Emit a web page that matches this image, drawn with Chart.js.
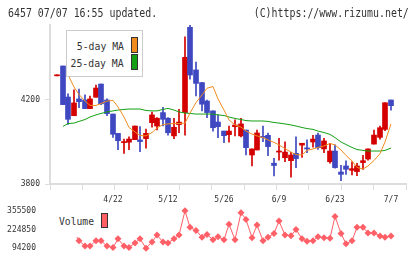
<!DOCTYPE html>
<html>
<head>
<meta charset="utf-8">
<script src="https://cdn.jsdelivr.net/npm/chart.js@4.4.1/dist/chart.umd.min.js"></script>
<style>
body { margin: 0; background: #fff; }
#box { position: relative; width: 420px; height: 259px; overflow: hidden; background: #fff;
  font-family: "DejaVu Sans Mono", monospace; color: #333; }
#box canvas { position: absolute; left: 0; }
.t { position: absolute; white-space: nowrap; }
.sw { position: absolute; box-sizing: border-box; border: 1px solid #333; }
</style>
</head>
<body>
<div id="box">
  <canvas id="chart_price" width="420" height="210" style="top:0"></canvas>
  <canvas id="chart_volume" width="420" height="59" style="top:200px"></canvas>

  <div class="t" style="left:8px;top:7px;font-size:12px;line-height:12px;transform:scaleX(0.826);transform-origin:left top">6457 07/07 16:55 updated.</div>
  <div class="t" style="right:11px;top:7px;font-size:12px;line-height:12px;transform:scaleX(0.826);transform-origin:right top">(C)https://www.rizumu.net/</div>

  <!-- legend price -->
  <div style="position:absolute;left:66px;top:30px;width:77px;height:47px;box-sizing:border-box;border:1px solid #ccc;background:#fff"></div>
  <div class="t" style="right:296px;top:41px;font-size:11px;line-height:11px;transform:scaleX(0.89);transform-origin:right top">5-day MA</div>
  <div class="t" style="right:296px;top:58px;font-size:11px;line-height:11px;transform:scaleX(0.89);transform-origin:right top">25-day MA</div>
  <div class="sw" style="left:131px;top:37px;width:7px;height:16px;background:#f08c1e"></div>
  <div class="sw" style="left:131px;top:54px;width:7px;height:16px;background:#14a014"></div>

  <!-- legend volume -->
  <div style="position:absolute;left:50px;top:204px;width:62px;height:33px;background:#fff"></div>
  <div class="t" style="left:59px;top:216px;font-size:11px;line-height:11px;transform:scaleX(0.88);transform-origin:left top">Volume</div>
  <div class="sw" style="left:101px;top:213px;width:7px;height:15px;background:#ff6064"></div>
</div>
<script>
var dates = ["4/22", "5/12", "5/26", "6/9", "6/23", "7/7"];
var dateIdx = [10, 20, 30, 40, 50, 60];

var open  = [4315,4362,4214,4125,4205,4200,4159,4213,4276,4200,4133,4041,3997,3999,4011,4010,4016,4092,4076,4140,4113,4029,4083,4140,4546,4343,4283,4195,4148,4095,4052,4035,4073,4029,4057,3938,3962,4027,4032,3899,3952,3925,3911,3946,3985,3972,4000,4033,3967,3906,3957,3857,3886,3865,3859,3902,3919,3990,4022,4060,4200];
var high  = [4320,4362,4229,4248,4252,4224,4219,4271,4276,4205,4133,4041,4014,4025,4076,4073,4062,4143,4116,4165,4116,4113,4156,4501,4557,4381,4283,4200,4148,4129,4052,4076,4105,4113,4057,3967,4057,4076,4043,3922,4018,4001,3951,4024,3994,4010,4032,4043,4018,3994,3986,3889,3910,3906,3899,3937,3967,4057,4076,4187,4200];
var low   = [4315,4178,4084,4125,4163,4159,4159,4213,4178,4125,4022,3963,3945,3963,4011,3954,3970,4070,4057,4076,4032,4016,4044,4032,4299,4219,4148,4116,4052,4021,3997,3999,4029,4024,3938,3886,3962,4001,3935,3839,3914,3906,3832,3878,3927,3949,3975,3965,3949,3899,3875,3816,3846,3843,3840,3870,3913,3990,4013,4054,4152];
var close = [4320,4178,4108,4186,4192,4159,4205,4257,4182,4135,4037,4006,4002,4014,4076,4002,4041,4129,4113,4108,4044,4070,4095,4403,4319,4279,4180,4140,4068,4073,4030,4052,4081,4086,3973,3967,4043,4022,3978,3888,3957,3952,3938,3921,3994,3967,4014,3973,4005,3957,3878,3846,3870,3873,3886,3911,3967,4033,4068,4187,4173];

var ma5  = [null,null,4320,4262,4226,4195,4174,4174,4183,4195,4198,4167,4119,4069,4048,4031,4029,4045,4067,4083,4086,4088,4088,4090,4138,4188,4224,4256,4264,4205,4152,4105,4081,4071,4052,4038,4029,4021,4010,3998,3986,3969,3952,3940,3938,3960,3967,3974,3981,3993,3986,3962,3936,3910,3879,3871,3886,3912,3945,4000,4086];
var ma25 = [null,4074,4088,4090,4098,4107,4119,4129,4136,4143,4148,4152,4155,4157,4157,4157,4150,4148,4148,4155,4160,4152,4143,4138,4136,4133,4133,4133,4133,4129,4126,4119,4112,4107,4102,4100,4100,4100,4098,4093,4090,4086,4081,4076,4069,4064,4060,4052,4045,4036,4021,4000,3988,3974,3964,3960,3957,3957,3957,3960,3971];

var volume = [210000,225000,200000,205000,146500,109200,109200,146500,146500,109200,98800,159500,109200,98800,131400,159500,94200,138000,185700,138000,131400,159500,185700,355500,239900,218300,170600,190200,153000,174500,153000,262100,153000,342400,294700,168000,255500,146500,170600,196800,283600,185700,181100,224900,159500,141900,146500,174500,168000,164100,316300,196800,124900,146500,239900,239900,200700,200700,179100,170600,179100];

var priceTicks = [3800, 4200];
var volumeTicks = [94200, 224850, 355500];

var UP = "#d40000", DOWN = "#3f48c0";
var monoFont = {family: "DejaVu Sans Mono", size: 8};

function series(arr) {
  return arr.map(function (v, i) { return {x: i, y: v}; });
}
function fixTicks(list) {
  return function (scale) { scale.ticks = list.map(function (v) { return {value: v}; }); };
}

var colors = close.map(function (c, i) { return c >= open[i] ? UP : DOWN; });
var bodies = open.map(function (o, i) { return {x: i, y: [o, close[i]]}; });
var wicks = low.map(function (l, i) { return {x: i, y: [l, high[i]]}; });

/* Price chart */
new Chart(document.getElementById("chart_price"), {
  type: "bar",
  data: {
    datasets: [
      {type: "line", data: series(ma5), borderColor: "#f08c1e", borderWidth: 1, pointRadius: 0, order: 0},
      {type: "line", data: series(ma25), borderColor: "#14a014", borderWidth: 1, pointRadius: 0, order: 0},
      {data: bodies, backgroundColor: colors, barThickness: 5, grouped: false, order: 1},
      {data: wicks, backgroundColor: colors, barThickness: 1, grouped: false, order: 2}
    ]
  },
  options: {
    responsive: false,
    animation: false,
    layout: {padding: {top: 25, right: 14, bottom: 4, left: 0}},
    plugins: {legend: {display: false}, tooltip: {enabled: false}},
    scales: {
      x: {
        type: "linear", min: -1.25, max: 62.75, alignToPixels: true, offset: false, weight: 1,
        grid: {display: false}, border: {display: false},
        ticks: {font: monoFont, color: "#333", padding: -3, maxRotation: 0, autoSkip: false,
          callback: function (v) { var k = dateIdx.indexOf(v); return k < 0 ? "" : dates[k]; }},
        afterBuildTicks: fixTicks(dateIdx),
        afterFit: function (s) { s.height = 16; }
      },
      x2: {
        type: "linear", position: "bottom", min: 0, max: 11, offset: false, weight: 0,
        ticks: {display: false, stepSize: 1},
        grid: {drawOnChartArea: false, tickLength: 6, color: "#ddd", offset: false},
        border: {color: "#ddd", width: 2},
        afterFit: function (s) { s.height = 6; }
      },
      y: {
        type: "linear", min: 3800, max: 4557,
        grid: {drawOnChartArea: false, tickLength: 5, color: "#ddd"},
        border: {color: "#ddd", width: 2},
        ticks: {font: monoFont, color: "#333", padding: 5, callback: function (v) { return String(v); }},
        afterBuildTicks: fixTicks(priceTicks),
        afterFit: function (s) { s.width = 50; }
      }
    }
  }
});

/* Volume chart */
new Chart(document.getElementById("chart_volume"), {
  type: "line",
  data: {
    datasets: [{
      data: series(volume), borderColor: "#ff5f66", backgroundColor: "#ff5f66", borderWidth: 1,
      pointStyle: "rectRot", pointRadius: 3.5, pointBorderWidth: 0, clip: false
    }]
  },
  options: {
    responsive: false,
    animation: false,
    layout: {padding: {top: 9, right: 14, bottom: 10, left: 0}},
    plugins: {legend: {display: false}, tooltip: {enabled: false}},
    scales: {
      x: {type: "linear", min: -1.25, max: 62.75, alignToPixels: true, display: false},
      y: {
        type: "linear", min: 94200, max: 355500,
        grid: {display: false}, border: {display: false},
        ticks: {font: monoFont, color: "#333", padding: 6, callback: function (v) { return String(v); }},
        afterBuildTicks: fixTicks(volumeTicks),
        afterFit: function (s) { s.width = 50; }
      }
    }
  }
});
</script>
</body>
</html>
